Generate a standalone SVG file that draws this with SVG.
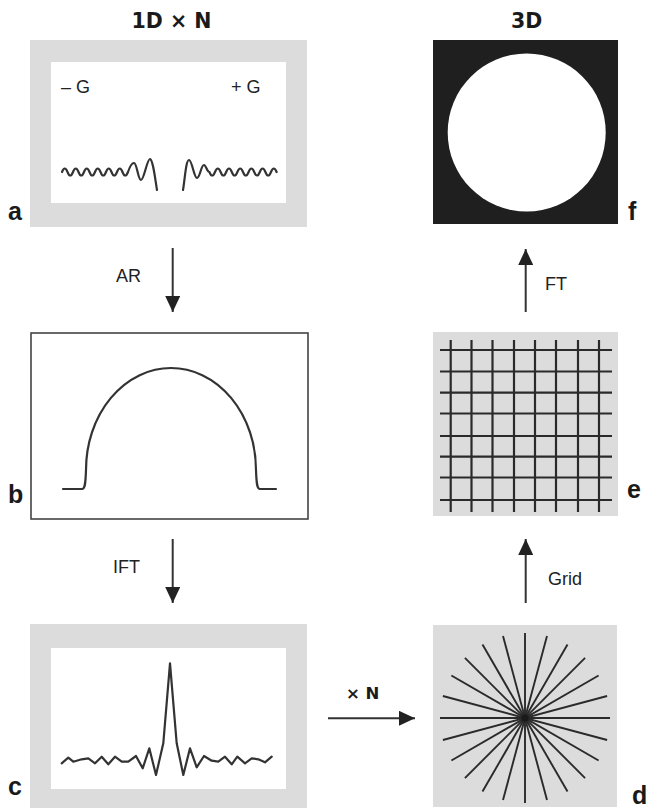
<svg xmlns="http://www.w3.org/2000/svg" width="648" height="809" viewBox="0 0 648 809">
<defs>
<style>
.gray{fill:#dcdcdc}
.white{fill:#ffffff}
.wave{fill:none;stroke:#333;stroke-width:2.2;stroke-linejoin:round;stroke-linecap:round}
.spoke{stroke:#2a2a2a;stroke-width:1.9}
.grid{stroke:#2a2a2a;stroke-width:2.2}
.conn{stroke:#333;stroke-width:2;fill:none}
.lbl{font-family:"Liberation Sans",Arial,sans-serif;font-weight:bold;font-size:25px;fill:#1a1a1a}
.head{font-family:"DejaVu Sans",sans-serif;font-weight:bold;font-size:20.5px;fill:#1a1a1a;text-anchor:middle}
.txt{font-family:"Liberation Sans",Arial,sans-serif;font-size:18px;fill:#222}
.g{font-family:"Liberation Sans",Arial,sans-serif;font-size:18px;fill:#222}
</style>
<marker id="ah" markerUnits="userSpaceOnUse" markerWidth="16" markerHeight="15" refX="16" refY="7.5" orient="auto">
<path d="M0,0 L16,7.5 L0,15 z" fill="#222"/>
</marker>
</defs>

<text class="head" x="171.5" y="27.5">1D × N</text>
<text class="head" x="526.7" y="27.5">3D</text>

<g id="node-a">
<rect class="gray" x="30" y="40" width="277" height="187"/>
<rect class="white" x="51" y="62" width="235" height="141"/>
<text class="g" x="61" y="93">– G</text>
<text class="g" x="231" y="93">+ G</text>
<path class="wave" d="M62,172 Q64.75,165 67.5,172 T73,172 T78.5,172 T84,172 T89.5,172 T95,172 T100.5,172 T106,172 T111.5,172 T117,172 T122.5,172 T128,172 C130,166 132,163 134,163 C137,163 138,180 141,180 C144,180 147,159 150,159 C153,160 155,178 157,190"/>
<path class="wave" d="M183,190 C185,178 186,160 189,160 C192,160 194,178 197,178 C200,178 201,165 204,165 C206,165 207,172 209.4,172 Q212.2,179 215,172 T220.6,172 T226.2,172 T231.8,172 T237.4,172 T243,172 T248.6,172 T254.2,172 T259.8,172 T265.4,172 T271,172 T276.6,172"/>
<text class="lbl" x="8" y="220">a</text>
</g>

<g id="node-b">
<rect x="31" y="333" width="277" height="186" fill="#fff" stroke="#444" stroke-width="1.6"/>
<path class="wave" d="M63,489 H82 C85,489 85.5,484 86,470 A85,102 0 0 1 256,470 C256.5,484 257,489 260,489 H276"/>
<text class="lbl" x="8" y="503">b</text>
</g>

<g id="node-c">
<rect class="gray" x="30" y="624" width="277" height="184"/>
<rect class="white" x="51" y="648" width="235" height="141"/>
<polyline class="wave" points="61.7,763.3 68.3,757.7 73.3,761.7 81.7,759.3 88.3,758.3 95,763.3 101.7,756.7 108.3,764.3 115,756.7 121.7,761.7 128.3,761.7 136,756 142.7,768.3 149.3,748.3 156,775 163.3,743.3 170,663.3 176.7,743.3 183.3,775 190,748.3 196.7,767.3 204,756 211.7,760.7 218.3,761.7 225,756.7 231.7,764.3 237.3,756.7 245,763.3 251.7,758.3 258.3,759.3 265,762.3 271.7,756.7"/>
<text class="lbl" x="8" y="795">c</text>
</g>

<g id="node-d">
<rect class="gray" x="433" y="625" width="184" height="182"/>
<g class="spoke">
<line x1="440" y1="718" x2="610" y2="718"/>
<line x1="442.9" y1="696" x2="607.1" y2="740"/>
<line x1="451.4" y1="675.5" x2="598.6" y2="760.5"/>
<line x1="464.9" y1="657.9" x2="585.1" y2="778.1"/>
<line x1="482.5" y1="644.4" x2="567.5" y2="791.6"/>
<line x1="503" y1="635.9" x2="547" y2="800.1"/>
<line x1="525" y1="633" x2="525" y2="803"/>
<line x1="547" y1="635.9" x2="503" y2="800.1"/>
<line x1="567.5" y1="644.4" x2="482.5" y2="791.6"/>
<line x1="585.1" y1="657.9" x2="464.9" y2="778.1"/>
<line x1="598.6" y1="675.5" x2="451.4" y2="760.5"/>
<line x1="607.1" y1="696" x2="442.9" y2="740"/>
</g>
<circle cx="525" cy="718" r="3.5" fill="#1a1a1a"/>
<text class="lbl" x="632" y="804">d</text>
</g>

<g id="node-e">
<rect class="gray" x="433" y="332" width="185" height="184"/>
<g class="grid">
<line x1="450.7" y1="340" x2="450.7" y2="512"/>
<line x1="471.5" y1="340" x2="471.5" y2="512"/>
<line x1="492.5" y1="340" x2="492.5" y2="512"/>
<line x1="514" y1="340" x2="514" y2="512"/>
<line x1="535" y1="340" x2="535" y2="512"/>
<line x1="556" y1="340" x2="556" y2="512"/>
<line x1="578" y1="340" x2="578" y2="512"/>
<line x1="599" y1="340" x2="599" y2="512"/>
<line x1="440" y1="350" x2="612" y2="350"/>
<line x1="440" y1="371.5" x2="612" y2="371.5"/>
<line x1="440" y1="392.7" x2="612" y2="392.7"/>
<line x1="440" y1="413.5" x2="612" y2="413.5"/>
<line x1="440" y1="436" x2="612" y2="436"/>
<line x1="440" y1="456.7" x2="612" y2="456.7"/>
<line x1="440" y1="477.5" x2="612" y2="477.5"/>
<line x1="440" y1="500" x2="612" y2="500"/>
</g>
<text class="lbl" x="627" y="498">e</text>
</g>

<g id="node-f">
<rect x="433" y="40" width="185" height="184" fill="#1f1f1f"/>
<circle cx="526.7" cy="132.5" r="79" fill="#fff"/>
<text class="lbl" x="628" y="220">f</text>
</g>

<g id="connectors">
<line class="conn" x1="172.7" y1="248" x2="172.7" y2="312" marker-end="url(#ah)"/>
<text class="txt" x="116" y="282">AR</text>
<line class="conn" x1="172.7" y1="539" x2="172.7" y2="603" marker-end="url(#ah)"/>
<text class="txt" x="113" y="573">IFT</text>
<line class="conn" x1="328" y1="718.3" x2="415" y2="718.3" marker-end="url(#ah)"/>
<text x="346" y="699" style="font-family:'DejaVu Sans',sans-serif;font-weight:bold;font-size:16.5px;fill:#1a1a1a">× N</text>
<line class="conn" x1="525.7" y1="603" x2="525.7" y2="539" marker-end="url(#ah)"/>
<text class="txt" x="548" y="585">Grid</text>
<line class="conn" x1="525.7" y1="312" x2="525.7" y2="249" marker-end="url(#ah)"/>
<text class="txt" x="545" y="290">FT</text>
</g>
</svg>
